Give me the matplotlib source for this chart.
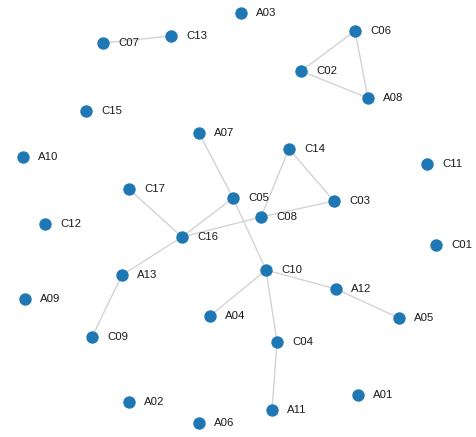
"""Network graph of A/C nodes with a few linked clusters."""

import matplotlib
matplotlib.use("Agg")
import matplotlib.pyplot as plt

# node names and their layout positions (pixel space, y down)
node_names = ["A01", "A02", "A03", "A04", "A05", "A06", "A07", "A08", "A09",
              "A10", "A11", "A12", "A13",
              "C01", "C02", "C03", "C04", "C05", "C06", "C07", "C08", "C09",
              "C10", "C11", "C12", "C13", "C14", "C15", "C16", "C17"]
node_x = [358, 129, 241, 210, 399, 199, 199, 368, 25,
          23, 272, 336, 122,
          436, 301, 334, 277, 233, 355, 103, 261, 92,
          266, 427, 45, 171, 289, 86, 182, 129]
node_y = [395, 402, 13, 316, 318, 423, 133, 98, 299,
          157, 410, 289, 275,
          245, 71, 201, 342, 198, 31, 43, 217, 337,
          270, 164, 224, 36, 149, 111, 237, 189]

# links between nodes
edges = [("C07", "C13"),
         ("C06", "C02"), ("C06", "A08"), ("C02", "A08"),
         ("A07", "C05"), ("C05", "C10"), ("C05", "C16"),
         ("C14", "C08"), ("C14", "C03"), ("C08", "C03"), ("C08", "C16"),
         ("C17", "C16"), ("C16", "A13"), ("A13", "C09"),
         ("C10", "A04"), ("C10", "C04"), ("C10", "A12"),
         ("A12", "A05"), ("C04", "A11")]

NODE_COLOR = "#1f77b4"
EDGE_COLOR = "#d3d3d3"

fig = plt.figure(figsize=(4.76, 4.37), dpi=100)
ax = fig.add_axes([0, 0, 1, 1])
ax.set_xlim(0, 476)
ax.set_ylim(437, 0)
ax.axis("off")

pos = {name: (x, y) for name, x, y in zip(node_names, node_x, node_y)}

# edges first so the nodes sit on top
for a, b in edges:
    ax.plot([pos[a][0], pos[b][0]], [pos[a][1], pos[b][1]],
            color=EDGE_COLOR, linewidth=1.0, zorder=1)

ax.scatter(node_x, node_y, s=80, color=NODE_COLOR, linewidths=0, zorder=2)

for name, x, y in zip(node_names, node_x, node_y):
    ax.annotate(name, (x, y), xytext=(11, 0), textcoords="offset points",
                ha="left", va="center", fontsize=8.2, color="#1a1a1a",
                family=["Liberation Sans", "DejaVu Sans"], zorder=3)

fig.savefig("out.png", dpi=100)
